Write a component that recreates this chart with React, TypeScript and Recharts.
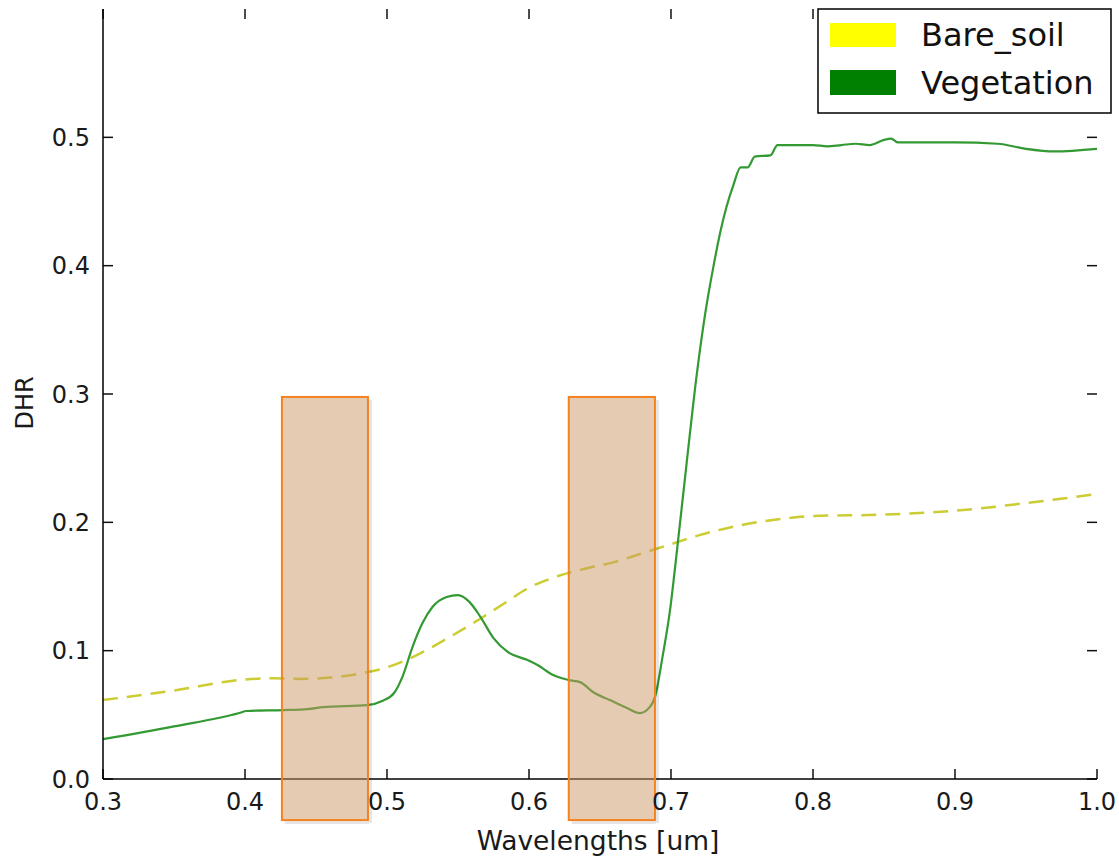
import {
  Line,
  LineChart,
  ReferenceArea,
  ReferenceLine,
  XAxis,
  YAxis,
} from "recharts";

const FONT = "'DejaVu Sans', sans-serif";

// wavelength ticks and reflectance ticks
const xTicks = [0.3, 0.4, 0.5, 0.6, 0.7, 0.8, 0.9, 1.0];
const yTicks = [0.0, 0.1, 0.2, 0.3, 0.4, 0.5];

const X_MIN = 0.3;
const X_MAX = 1.0;
const Y_MIN = 0;
const Y_MAX = 0.6;

// Bare soil spectrum (dashed)
const soilWavelengths = [
  0.3, 0.35, 0.4, 0.42, 0.44, 0.46, 0.48, 0.5, 0.52, 0.54, 0.56, 0.58, 0.6,
  0.62, 0.64, 0.66, 0.68, 0.7, 0.72, 0.75, 0.78, 0.8, 0.85, 0.9, 0.95, 1.0,
];
const soilDhr = [
  0.0615, 0.069, 0.0775, 0.0785, 0.078, 0.079, 0.082, 0.087, 0.096, 0.108,
  0.121, 0.135, 0.149, 0.158, 0.164, 0.169, 0.176, 0.183, 0.19, 0.198, 0.203,
  0.205, 0.206, 0.209, 0.215, 0.222,
];

// Vegetation spectrum (solid)
const vegWavelengths = [
  0.3, 0.35, 0.396, 0.401, 0.427, 0.444, 0.455, 0.486, 0.497, 0.505, 0.511,
  0.518, 0.525, 0.532, 0.542, 0.55, 0.558, 0.566, 0.575, 0.585, 0.599, 0.606,
  0.617, 0.628, 0.636, 0.645, 0.657, 0.669, 0.678, 0.685, 0.689, 0.694, 0.699,
  0.705, 0.711, 0.718, 0.724, 0.73, 0.735, 0.739, 0.744, 0.749, 0.754, 0.759,
  0.77, 0.775, 0.8, 0.81, 0.82, 0.83, 0.84, 0.85, 0.855, 0.86, 0.9, 0.93,
  0.95, 0.97, 1.0,
];
const vegDhr = [
  0.031, 0.041, 0.0514, 0.053, 0.0537, 0.0545, 0.056, 0.0576, 0.061, 0.067,
  0.08, 0.103, 0.1215, 0.134, 0.1418, 0.1433, 0.138, 0.126, 0.1098, 0.099,
  0.0927, 0.0888, 0.081, 0.0771, 0.0755, 0.0678, 0.0615, 0.0553, 0.0514,
  0.056, 0.065, 0.095, 0.129, 0.186, 0.246, 0.314, 0.362, 0.4, 0.4276,
  0.4455, 0.463, 0.4766, 0.4766, 0.485, 0.486, 0.494, 0.494, 0.493, 0.494,
  0.495, 0.494, 0.498, 0.499, 0.496, 0.496, 0.495, 0.491, 0.489, 0.491,
];

// highlighted bands [start, end] and their DHR extent
const bandStarts = [0.426, 0.628];
const bandEnds = [0.4866, 0.6887];
const bandBottom = -0.032;
const bandTop = 0.2977;

const soilData = soilWavelengths.map((x, i) => ({ x, v: soilDhr[i] }));
const vegData = vegWavelengths.map((x, i) => ({ x, v: vegDhr[i] }));

// inward tick length (~10px) expressed in axis units
const TICK_DX = ((X_MAX - X_MIN) * 10) / 994;
const TICK_DY = ((Y_MAX - Y_MIN) * 10) / 770;
const TICK_STROKE = "#111";

const axisLineStyle = { stroke: "#000", strokeWidth: 1.5 };

function BottomLabel(props: any) {
  const { x, y, payload } = props;
  return (
    <text
      x={x}
      y={y + 31}
      textAnchor="middle"
      fontSize={24}
      fontFamily={FONT}
      fill="#1a1a1a"
    >
      {Number(payload.value).toFixed(1)}
    </text>
  );
}

function LeftLabel(props: any) {
  const { x, y, payload } = props;
  return (
    <text
      x={x - 13}
      y={y + 8.5}
      textAnchor="end"
      fontSize={24}
      fontFamily={FONT}
      fill="#1a1a1a"
    >
      {Number(payload.value).toFixed(1)}
    </text>
  );
}

function BandShape({ x, y, width, height }: any) {
  return (
    <g>
      {/* soft shadow only along the right and bottom edges */}
      <rect x={x + width + 1} y={y + 3} width={3} height={height} fill="#000" fillOpacity={0.1} />
      <rect x={x + 3} y={y + height + 1} width={width - 2} height={3} fill="#000" fillOpacity={0.1} />
      <rect
        x={x}
        y={y}
        width={width}
        height={height}
        fill="#cb9765"
        fillOpacity={0.5}
        stroke="#f58220"
        strokeWidth={2}
      />
    </g>
  );
}

function Legend() {
  return (
    <svg
      width={296}
      height={108}
      style={{ position: "absolute", left: 817, top: 8 }}
    >
      <rect x={1} y={1} width={293} height={104} fill="#fff" stroke="#000" strokeWidth={1.5} />
      <rect x={13} y={15} width={66} height={24} fill="#ffff00" />
      <rect x={13} y={62} width={66} height={25} fill="#008000" />
      <text x={104} y={38} fontSize={32} fontFamily={FONT} fill="#111">
        Bare_soil
      </text>
      <text x={104} y={86} fontSize={32} fontFamily={FONT} fill="#111">
        Vegetation
      </text>
    </svg>
  );
}

export default function App() {
  return (
    <div
      style={{
        position: "absolute",
        left: 0,
        top: 0,
        width: 1119,
        height: 856,
        background: "#fff",
      }}
    >
      <LineChart
        width={1119}
        height={856}
        margin={{ top: 9, right: 22, bottom: 0, left: 0 }}
      >
        <XAxis
          xAxisId={0}
          type="number"
          dataKey="x"
          domain={[X_MIN, X_MAX]}
          ticks={xTicks}
          interval={0}
          height={77}
          tickSize={0}
          tickMargin={0}
          tickLine={false}
          tick={BottomLabel}
          axisLine={axisLineStyle}
          label={() => (
            <text
              x={598}
              y={850}
              textAnchor="middle"
              fontSize={26.5}
              fontFamily={FONT}
              fill="#1a1a1a"
            >
              Wavelengths [um]
            </text>
          )}
        />
        <XAxis
          xAxisId="top"
          orientation="top"
          type="number"
          dataKey="x"
          domain={[X_MIN, X_MAX]}
          height={0}
          tick={false}
          tickLine={false}
          axisLine={axisLineStyle}
        />
        <YAxis
          yAxisId={0}
          type="number"
          domain={[Y_MIN, Y_MAX]}
          ticks={yTicks}
          interval={0}
          width={103}
          tickSize={0}
          tickMargin={0}
          tickLine={false}
          tick={LeftLabel}
          axisLine={axisLineStyle}
          label={() => (
            <text
              x={25}
              y={403}
              transform="rotate(-90 25 403)"
              textAnchor="middle"
              dominantBaseline="central"
              fontSize={24}
              fontFamily={FONT}
              fill="#1a1a1a"
            >
              DHR
            </text>
          )}
        />
        <YAxis
          yAxisId="right"
          orientation="right"
          type="number"
          domain={[Y_MIN, Y_MAX]}
          width={0}
          tick={false}
          tickLine={false}
          axisLine={axisLineStyle}
        />

        {/* inward ticks on all four spines */}
        {xTicks.map((t) => (
          <ReferenceLine
            key={`b${t}`}
            segment={[{ x: t, y: Y_MIN }, { x: t, y: Y_MIN + TICK_DY }]}
            stroke={TICK_STROKE}
            strokeWidth={1.5}
            ifOverflow="visible"
          />
        ))}
        {xTicks.map((t) => (
          <ReferenceLine
            key={`t${t}`}
            segment={[{ x: t, y: Y_MAX }, { x: t, y: Y_MAX - TICK_DY }]}
            stroke={TICK_STROKE}
            strokeWidth={1.5}
            ifOverflow="visible"
          />
        ))}
        {yTicks.map((t) => (
          <ReferenceLine
            key={`l${t}`}
            segment={[{ x: X_MIN, y: t }, { x: X_MIN + TICK_DX, y: t }]}
            stroke={TICK_STROKE}
            strokeWidth={1.5}
            ifOverflow="visible"
          />
        ))}
        {yTicks.map((t) => (
          <ReferenceLine
            key={`r${t}`}
            segment={[{ x: X_MAX, y: t }, { x: X_MAX - TICK_DX, y: t }]}
            stroke={TICK_STROKE}
            strokeWidth={1.5}
            ifOverflow="visible"
          />
        ))}

        <Line
          data={soilData}
          dataKey="v"
          type="monotone"
          stroke="#cccc33"
          strokeWidth={2.5}
          strokeDasharray="15 9"
          dot={false}
          activeDot={false}
          isAnimationActive={false}
        />
        <Line
          data={vegData}
          dataKey="v"
          type="monotone"
          stroke="#339933"
          strokeWidth={2.2}
          dot={false}
          activeDot={false}
          isAnimationActive={false}
        />

        {bandStarts.map((start, i) => (
          <ReferenceArea
            key={i}
            x1={start}
            x2={bandEnds[i]}
            y1={bandBottom}
            y2={bandTop}
            ifOverflow="visible"
            shape={BandShape}
            zIndex={1000}
          />
        ))}
      </LineChart>
      <Legend />
    </div>
  );
}
